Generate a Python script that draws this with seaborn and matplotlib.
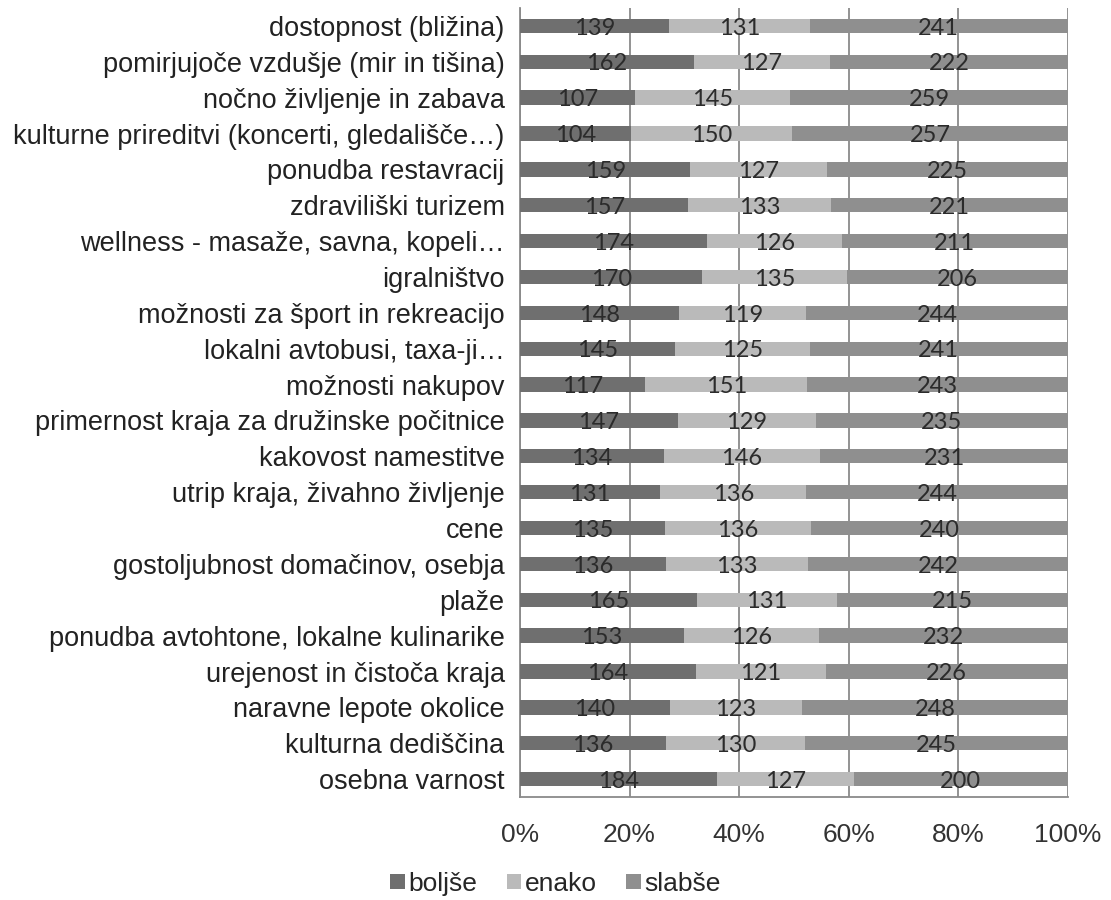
import numpy as np
import pandas as pd
import matplotlib
matplotlib.use("Agg")
import matplotlib.pyplot as plt
import seaborn as sns
from matplotlib.patches import Patch

categories = [
    "dostopnost (bližina)",
    "pomirjujoče vzdušje (mir in tišina)",
    "nočno življenje in zabava",
    "kulturne prireditvi (koncerti, gledališče…)",
    "ponudba restavracij",
    "zdraviliški turizem",
    "wellness - masaže, savna, kopeli…",
    "igralništvo",
    "možnosti za šport in rekreacijo",
    "lokalni avtobusi, taxa-ji…",
    "možnosti nakupov",
    "primernost kraja za družinske počitnice",
    "kakovost namestitve",
    "utrip kraja, živahno življenje",
    "cene",
    "gostoljubnost domačinov, osebja",
    "plaže",
    "ponudba avtohtone, lokalne kulinarike",
    "urejenost in čistoča kraja",
    "naravne lepote okolice",
    "kulturna dediščina",
    "osebna varnost",
]
bolje = [139, 162, 107, 104, 159, 157, 174, 170, 148, 145, 117, 147, 134, 131, 135, 136, 165, 153, 164, 140, 136, 184]
enako = [131, 127, 145, 150, 127, 133, 126, 135, 119, 125, 151, 129, 146, 136, 136, 133, 131, 126, 121, 123, 130, 127]
slabse = [241, 222, 259, 257, 225, 221, 211, 206, 244, 241, 243, 235, 231, 244, 240, 242, 215, 232, 226, 248, 245, 200]
series_names = ["boljše", "enako", "slabše"]
colors = ["#6f6f6f", "#bababa", "#8f8f8f"]

df = pd.DataFrame({"cat": categories, "b": bolje, "e": enako, "s": slabse})
tot = df[["b", "e", "s"]].sum(axis=1)
df["pb"] = df["b"] / tot * 100
df["pe"] = df["e"] / tot * 100
df["ps"] = df["s"] / tot * 100
df["c1"] = df["pb"]
df["c2"] = df["pb"] + df["pe"]
df["c3"] = df["c2"] + df["ps"]

sns.set_style("white")
plt.rcParams["font.family"] = ["Liberation Sans", "DejaVu Sans"]

fig = plt.figure(figsize=(11.11, 9), dpi=100)
ax = fig.add_axes([0.468, 0.1144, 0.4933, 0.8767])

# stacked from the back: total, first two, first
for col, c in zip(["c3", "c2", "c1"], [colors[2], colors[1], colors[0]]):
    sns.barplot(data=df, x=col, y="cat", orient="h", color=c, width=0.4,
                saturation=1, ax=ax, zorder=3, edgecolor="none")

for i, row in df.iterrows():
    starts = [0, row["c1"], row["c2"]]
    widths = [row["pb"], row["pe"], row["ps"]]
    vals = [row["b"], row["e"], row["s"]]
    for st, w, v in zip(starts, widths, vals):
        ax.text(st + w / 2, i + 0.06, str(int(v)), ha="center", va="center",
                fontsize=17, color="#2b2b2b", family="Lato", zorder=5)

ax.set_xlim(0, 100)
ax.set_ylim(len(categories) - 0.5, -0.5)
ax.set_xticks(np.arange(0, 101, 20))
ax.set_xticklabels([f"{v}%" for v in range(0, 101, 20)], fontsize=19, color="#333333")
ax.tick_params(axis="x", direction="out", length=6, width=1.2, color="#8a8a8a", pad=13)
ax.tick_params(axis="y", which="major", length=0, labelsize=19.5, labelcolor="#222222", pad=11)
ax.set_yticks(np.arange(-0.5, len(categories), 1), minor=True)
ax.tick_params(axis="y", which="minor", direction="out", length=6, width=1.2, color="#8a8a8a")
ax.set_xlabel("")
ax.set_ylabel("")
ax.grid(axis="x", color="#8a8a8a", linewidth=1.3, zorder=0)
ax.set_axisbelow(True)
for side in ["top", "right"]:
    ax.spines[side].set_visible(False)
for side in ["left", "bottom"]:
    ax.spines[side].set_color("#8a8a8a")
    ax.spines[side].set_linewidth(1.3)

handles = [Patch(facecolor=c, edgecolor="none") for c in colors]
fig.legend(handles, series_names, loc="center", bbox_to_anchor=(0.5, 0.018), ncol=3,
           frameon=False, fontsize=19, handlelength=0.55, handleheight=0.55,
           handletextpad=0.15, columnspacing=1.1, borderpad=0)

fig.savefig("out.png", dpi=100)
